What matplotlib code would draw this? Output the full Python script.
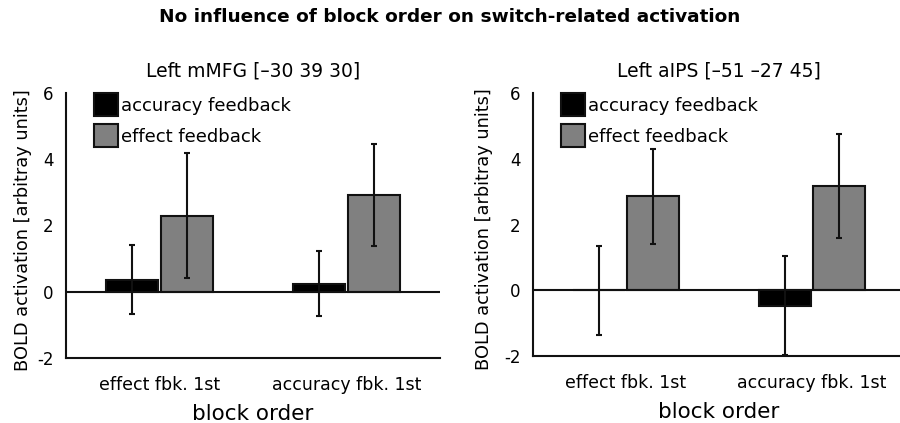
import matplotlib
matplotlib.use("Agg")
import matplotlib.pyplot as plt
import numpy as np

plt.rcParams['font.family'] = ['DejaVu Sans']
plt.rcParams['axes.unicode_minus'] = False

categories = ["effect fbk. 1st", "accuracy fbk. 1st"]
series_names = ["accuracy feedback", "effect feedback"]

mmfg_acc = [0.36, 0.24]
mmfg_acc_err = [1.04, 0.98]
mmfg_eff = [2.30, 2.92]
mmfg_eff_err = [1.88, 1.55]

aips_acc = [0.0, -0.47]
aips_acc_err = [1.35, 1.50]
aips_eff = [2.86, 3.16]
aips_eff_err = [1.45, 1.58]

yticks = [-2, 0, 2, 4, 6]
main_title = "No influence of block order on switch-related activation"
titles = ["Left mMFG [\u201330 39 30]", "Left aIPS [\u201351 \u201327 45]"]
ylabel = "BOLD activation [arbitray units]"
xlabel = "block order"

colors = ["#000000", "#808080"]

fig = plt.figure(figsize=(9.0, 4.23), dpi=100)
ax1 = fig.add_axes([66/900, 65/423, 374/900, 265/423])
ax2 = fig.add_axes([533/900, 67/423, 372/900, 263/423])

panels = [
    (ax1, mmfg_acc, mmfg_acc_err, mmfg_eff, mmfg_eff_err, titles[0]),
    (ax2, aips_acc, aips_acc_err, aips_eff, aips_eff_err, titles[1]),
]

x = np.arange(len(categories))
w = 0.276
off = 0.146

for ax, acc, acce, eff, effe, ttl in panels:
    ax.bar(x - off, acc, w, color=colors[0], edgecolor="#111111", linewidth=1.5,
           label=series_names[0], zorder=2)
    ax.bar(x + off, eff, w, color=colors[1], edgecolor="#111111", linewidth=1.5,
           label=series_names[1], zorder=2)
    ax.errorbar(x - off, acc, yerr=acce, fmt='none', ecolor='#111111', elinewidth=1.5,
                capsize=2.5, capthick=1.5, zorder=3)
    ax.errorbar(x + off, eff, yerr=effe, fmt='none', ecolor='#111111', elinewidth=1.5,
                capsize=2.5, capthick=1.5, zorder=3)
    ax.axhline(0, color='#111111', linewidth=1.5, zorder=4)
    ax.set_xlim(-0.5, 1.5)
    ax.set_ylim(-2, 6)
    ax.set_yticks(yticks)
    ax.set_xticks(x)
    ax.set_xticklabels(categories, fontsize=12.5)
    ax.tick_params(axis='both', length=0)
    ax.tick_params(axis='y', labelsize=12, pad=9)
    ax.tick_params(axis='x', pad=13)
    for s in ['top', 'right']:
        ax.spines[s].set_visible(False)
    for s in ['left', 'bottom']:
        ax.spines[s].set_linewidth(1.5)
        ax.spines[s].set_color('#111111')
    ax.set_title(ttl, fontsize=13.5, pad=12)
    ax.set_xlabel(xlabel, fontsize=15.5, labelpad=7)
    ax.set_ylabel(ylabel, fontsize=12.8)
    ax.legend(loc='upper left', bbox_to_anchor=(28/374, 1.0), frameon=False,
              fontsize=13, handlelength=1.32, handleheight=1.6,
              handletextpad=0.2, labelspacing=0.44, borderpad=0, borderaxespad=0)

ax1.yaxis.set_label_coords(-0.091, 0.483)
ax2.yaxis.set_label_coords(-0.1075, 0.483)

fig.suptitle(main_title, fontsize=13.3, fontweight='bold', y=0.981, va='top')

fig.savefig("out.png", dpi=100)
